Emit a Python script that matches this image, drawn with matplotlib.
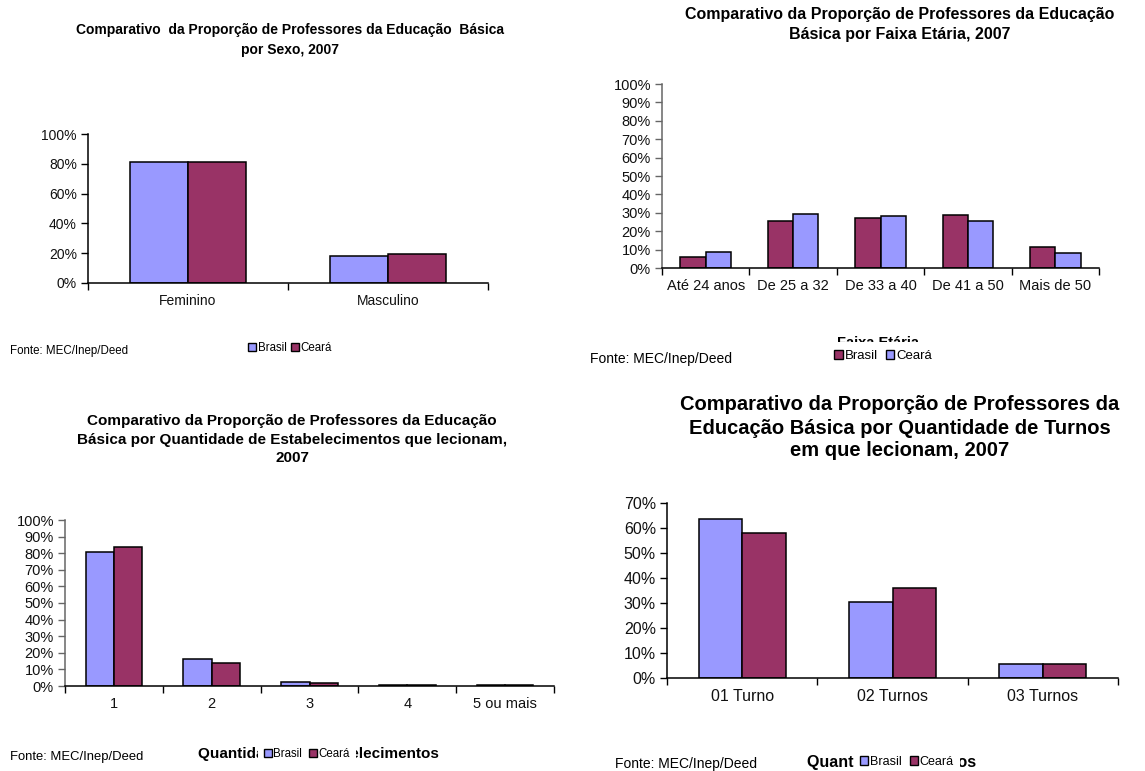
import matplotlib
matplotlib.use("Agg")
import matplotlib.pyplot as plt
from matplotlib.patches import Patch
from matplotlib.ticker import PercentFormatter, MultipleLocator, FixedLocator
import numpy as np

W, H = 1145, 771

BLUE = "#9999FF"
PLUM = "#993366"
NARROW = ["Liberation Sans Narrow", "Liberation Sans", "DejaVu Sans"]
ARIAL = ["Liberation Sans", "DejaVu Sans"]

# proporção de professores (%), Brasil x Ceará
sexo = ["Feminino", "Masculino"]
sexo_brasil = [81.4, 18.1]
sexo_ceara = [81.0, 19.2]

faixa = ["Até 24 anos", "De 25 a 32", "De 33 a 40", "De 41 a 50", "Mais de 50"]
faixa_brasil = [5.8, 25.7, 27.4, 28.8, 11.6]
faixa_ceara = [8.5, 29.3, 28.4, 25.7, 8.0]

estab = ["1", "2", "3", "4", "5 ou mais"]
estab_brasil = [81.0, 16.0, 2.4, 0.6, 0.5]
estab_ceara = [84.0, 14.0, 1.8, 0.5, 0.4]

turnos = ["01 Turno", "02 Turnos", "03 Turnos"]
turnos_brasil = [63.6, 30.3, 5.7]
turnos_ceara = [58.0, 36.0, 5.7]


def px_rect(x0, y_top, x1, y_bot):
    # pixel box -> figure fraction rect
    return [x0 / W, 1 - y_bot / H, (x1 - x0) / W, (y_bot - y_top) / H]


def ftext(x, y, s, **kw):
    fig.text(x / W, 1 - y / H, s, **kw)


def panel(rect, cats, brasil, ceara, c_brasil, c_ceara, ymax, ystep,
          family, size, left_color="black"):
    ax = fig.add_axes(rect)
    x = np.arange(len(cats))
    w = 0.29
    ax.bar(x - w / 2, brasil, w, color=c_brasil, edgecolor="black", linewidth=1.1)
    ax.bar(x + w / 2, ceara, w, color=c_ceara, edgecolor="black", linewidth=1.1)
    ax.set_xlim(-0.5, len(cats) - 0.5)
    ax.set_ylim(0, ymax)
    ax.yaxis.set_major_locator(MultipleLocator(ystep))
    ax.yaxis.set_major_formatter(PercentFormatter(decimals=0))
    ax.set_xticks(x)
    ax.set_xticklabels(cats)
    ax.xaxis.set_minor_locator(FixedLocator(np.arange(len(cats) + 1) - 0.5))
    ax.tick_params(axis="x", which="major", length=0, pad=8)
    ax.tick_params(axis="x", which="minor", length=5, width=1, color="black")
    ax.tick_params(axis="y", length=5, width=1, color=left_color, pad=3)
    for lab in ax.get_xticklabels() + ax.get_yticklabels():
        lab.set_family(family)
        lab.set_fontsize(size)
        lab.set_color("#111111")
    for side in ("top", "right"):
        ax.spines[side].set_visible(False)
    ax.spines["bottom"].set_linewidth(1.1)
    ax.spines["left"].set_linewidth(1.1)
    ax.spines["left"].set_color(left_color)
    return ax


def legend(x, y, c_brasil, c_ceara, family, size, pad=0.3, gap=0.6):
    handles = [Patch(facecolor=c_brasil, edgecolor="black", linewidth=1.0, label="Brasil"),
               Patch(facecolor=c_ceara, edgecolor="black", linewidth=1.0, label="Ceará")]
    fig.legend(handles=handles, loc="center", bbox_to_anchor=(x / W, 1 - y / H),
               ncol=2, frameon=True, facecolor="white", edgecolor="none",
               framealpha=1, fancybox=False, handlelength=0.65, handleheight=0.65,
               handletextpad=0.15, columnspacing=gap, borderpad=pad,
               borderaxespad=0, prop={"family": family, "size": size})


fig = plt.figure(figsize=(W / 100, H / 100), dpi=100)

# por sexo
panel(px_rect(88, 134, 488, 283), sexo, sexo_brasil, sexo_ceara, BLUE, PLUM,
      100, 20, NARROW, 10)
ftext(290, 30, "Comparativo  da Proporção de Professores da Educação  Básica",
      family=NARROW, weight="bold", size=10, ha="center", va="center")
ftext(290, 50, "por Sexo, 2007", family=NARROW, weight="bold", size=10,
      ha="center", va="center")
ftext(10, 351, "Fonte: MEC/Inep/Deed", family=NARROW, size=8.3, va="center")
legend(290, 348, BLUE, PLUM, NARROW, 8.3, gap=0.4)

# por faixa etária
panel(px_rect(662, 84, 1099, 268), faixa, faixa_brasil, faixa_ceara, PLUM, BLUE,
      100, 10, NARROW, 10.5, left_color="#666666")
ftext(900, 14, "Comparativo da Proporção de Professores da Educação",
      family=NARROW, weight="bold", size=11.5, ha="center", va="center")
ftext(900, 34, "Básica por Faixa Etária, 2007", family=NARROW, weight="bold",
      size=11.5, ha="center", va="center")
ftext(878, 343, "Faixa Etária", family=NARROW, weight="bold", size=10.5,
      ha="center", va="center")
ftext(590, 359, "Fonte: MEC/Inep/Deed", family=NARROW, size=10, va="center")
legend(883, 356, PLUM, BLUE, NARROW, 9.5, pad=0.6)

# por quantidade de estabelecimentos
panel(px_rect(65, 520, 554, 686), estab, estab_brasil, estab_ceara, BLUE, PLUM,
      100, 10, ARIAL, 10.5, left_color="#666666")
ftext(292, 421, "Comparativo da Proporção de Professores da Educação",
      family=ARIAL, weight="bold", size=11, ha="center", va="center")
ftext(292, 440, "Básica por Quantidade de Estabelecimentos que lecionam,",
      family=ARIAL, weight="bold", size=11, ha="center", va="center")
ftext(292, 458, "2007", family=ARIAL, weight="bold", size=11,
      ha="center", va="center")
ftext(318, 754, "Quantidade de Estabelecimentos", family=ARIAL, weight="bold",
      size=11, ha="center", va="center")
ftext(10, 757, "Fonte: MEC/Inep/Deed", family=ARIAL, size=9.4, va="center")
legend(307, 754, BLUE, PLUM, ARIAL, 8.3, pad=0.5)

# por quantidade de turnos
panel(px_rect(667, 503, 1118, 678), turnos, turnos_brasil, turnos_ceara, BLUE, PLUM,
      70, 10, ARIAL, 11.5)
ftext(900, 405, "Comparativo da Proporção de Professores da",
      family=ARIAL, weight="bold", size=14.5, ha="center", va="center")
ftext(900, 428, "Educação Básica por Quantidade de Turnos",
      family=ARIAL, weight="bold", size=14.5, ha="center", va="center")
ftext(900, 451, "em que lecionam, 2007", family=ARIAL, weight="bold", size=14.5,
      ha="center", va="center")
ftext(892, 762, "Quantidade de Turnos", family=ARIAL, weight="bold",
      size=11.5, ha="center", va="center")
ftext(615, 764, "Fonte: MEC/Inep/Deed", family=ARIAL, size=10, va="center")
legend(907, 762, BLUE, PLUM, ARIAL, 9, pad=0.5)

fig.savefig("out.png", dpi=100, facecolor="white")
